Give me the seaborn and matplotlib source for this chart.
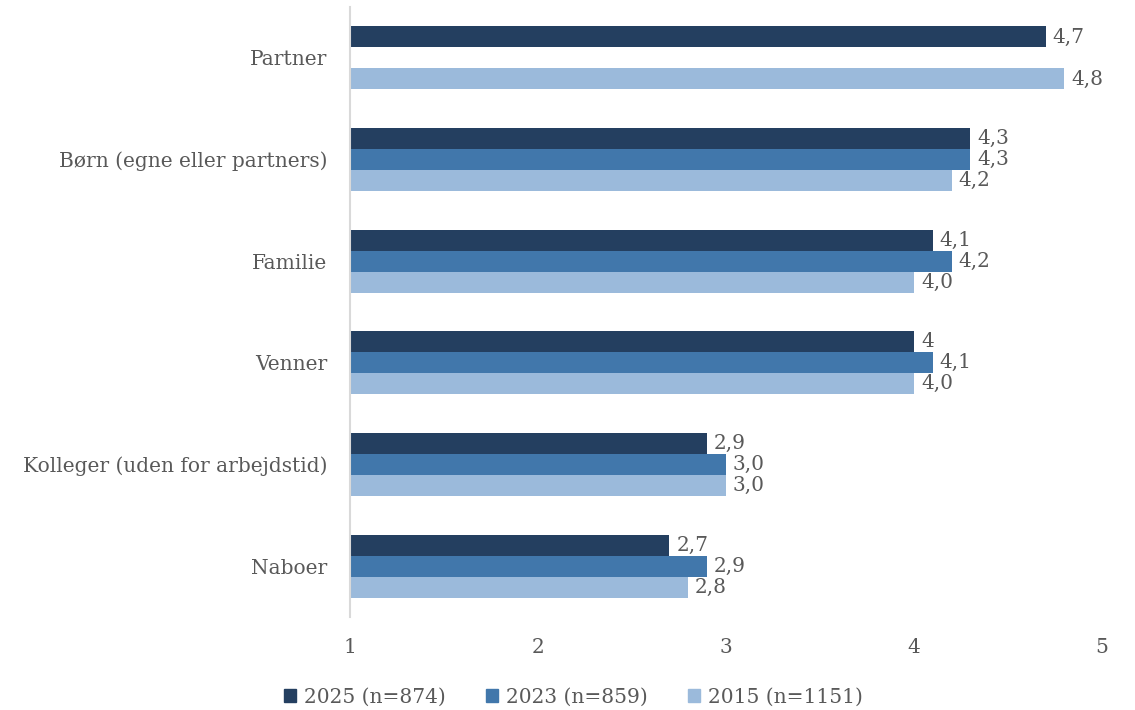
import matplotlib.pyplot as plt
import pandas as pd
import seaborn as sns
import numpy as np

# --- data ---
categories = ['Partner', 'Børn (egne eller partners)', 'Familie', 'Venner',
              'Kolleger (uden for arbejdstid)', 'Naboer']
series = ['2025 (n=874)', '2023 (n=859)', '2015 (n=1151)']
vals_2025 = [4.7, 4.3, 4.1, 4.0, 2.9, 2.7]
vals_2023 = [np.nan, 4.3, 4.2, 4.1, 3.0, 2.9]
vals_2015 = [4.8, 4.2, 4.0, 4.0, 3.0, 2.8]
labels_2025 = ['4,7', '4,3', '4,1', '4', '2,9', '2,7']
labels_2023 = ['', '4,3', '4,2', '4,1', '3,0', '2,9']
labels_2015 = ['4,8', '4,2', '4,0', '4,0', '3,0', '2,8']
colors = ['#243f60', '#4177ab', '#9bbadb']
axis_start = 1

rows = []
for s, vals, labs in zip(series, [vals_2025, vals_2023, vals_2015],
                         [labels_2025, labels_2023, labels_2015]):
    for c, v, l in zip(categories, vals, labs):
        rows.append({'Kategori': c, 'Serie': s, 'Værdi': v, 'Label': l})
df = pd.DataFrame(rows)

sns.set_style('white')
plt.rcParams['font.family'] = ['DejaVu Serif']
text_col = '#595959'
fs = 14.5

fig = plt.figure(figsize=(11.35, 7.1), dpi=100)
ax = fig.add_axes([0.308, 0.131, 0.663, 0.859])

sns.barplot(data=df.dropna(subset=['Værdi']), y='Kategori', x='Værdi', hue='Serie',
            order=categories, hue_order=series, palette=colors, saturation=1,
            width=0.62, gap=0, orient='h', ax=ax, legend=False, linewidth=0)

# bars start at the axis origin (1), not at 0
for p in ax.patches:
    w = p.get_width()
    p.set_x(axis_start)
    p.set_width(w - axis_start)

# value labels
for cont, labs in zip(ax.containers, [labels_2025, labels_2023, labels_2015]):
    ax.bar_label(cont, labels=[l for l in labs if l != ''], padding=5,
                 fontsize=fs, color=text_col)

ax.set_xlim(1, 5)
ax.set_ylim(len(categories) - 0.5, -0.5)
ax.set_xticks([1, 2, 3, 4, 5])
ax.set_xlabel('')
ax.set_ylabel('')
for sp in ['top', 'right', 'bottom']:
    ax.spines[sp].set_visible(False)
ax.spines['left'].set_color('#d9d9d9')
ax.spines['left'].set_linewidth(1.5)
ax.tick_params(axis='x', length=0, pad=15, labelsize=fs, labelcolor=text_col)
ax.tick_params(axis='y', length=0, pad=16, labelsize=fs, labelcolor=text_col)

handles = [plt.Rectangle((0, 0), 1, 1, color=c) for c in colors]
fig.legend(handles, series, loc='center', bbox_to_anchor=(0.505, 0.018),
           ncol=3, frameon=False, fontsize=fs, labelcolor=text_col,
           handlelength=0.6, handleheight=0.6, handletextpad=0.4, columnspacing=2.0)

fig.savefig('out.png', dpi=100)
